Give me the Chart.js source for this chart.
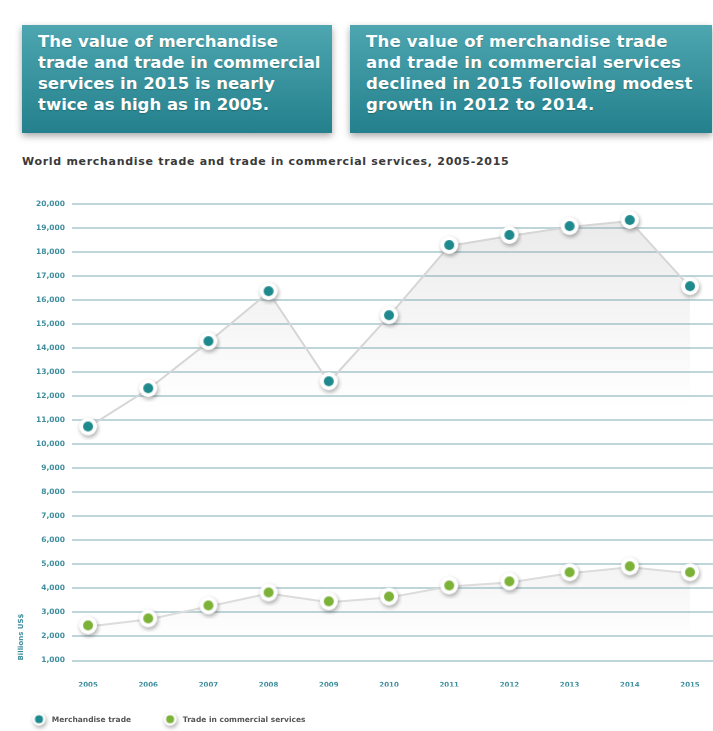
<!DOCTYPE html>
<html lang="en">
<head>
  <meta charset="UTF-8">
  <title>World merchandise trade and trade in commercial services</title>
  <script src="https://cdn.jsdelivr.net/npm/chart.js@4"></script>
  <style>
    html, body { margin: 0; padding: 0; background: #fff; }
    body { width: 713px; height: 731px; position: relative; overflow: hidden; font-family: "DejaVu Sans", sans-serif; }
    .box {
      position: absolute; top: 25px; height: 108px; box-sizing: border-box;
      padding: 6px 0 0 16px;
      background: linear-gradient(to bottom, #4da6b0, #23808c);
      box-shadow: 0 3px 7px rgba(0,0,0,0.35);
      color: #fff; font-weight: bold; font-size: 16.5px; line-height: 21px;
      text-shadow: 0 1px 1px rgba(0,0,0,0.2);
    }
    #box1 { left: 22px; width: 310px; }
    #box2 { left: 350px; width: 362px; letter-spacing: 0.2px; }
    .chart-title { position: absolute; left: 22px; top: 155px; font-size: 11px; font-weight: bold; color: #3a3a3a; letter-spacing: 0.7px; white-space: nowrap; }
    .chart-wrap { position: absolute; left: 0; top: 170px; width: 713px; height: 564px; }
  </style>
</head>
<body>

  <div class="box" id="box1">The value of merchandise<br>trade and trade in commercial<br>services in 2015 is nearly<br>twice as high as in 2005.</div>
  <div class="box" id="box2">The value of merchandise trade<br>and trade in commercial services<br>declined in 2015 following modest<br>growth in 2012 to 2014.</div>

  <div class="chart-title">World merchandise trade and trade in commercial services, 2005-2015</div>

  <div class="chart-wrap"><canvas id="tradeChart"></canvas></div>

<script>
// valores em bilhoes de US$
const years = [2005, 2006, 2007, 2008, 2009, 2010, 2011, 2012, 2013, 2014, 2015];
const merchandiseTrade = [10700, 12290, 14250, 16330, 12580, 15330, 18250, 18670, 19040, 19290, 16540];
const commercialServices = [2420, 2710, 3250, 3790, 3420, 3620, 4080, 4250, 4630, 4880, 4630];
const seriesNames = ['Merchandise trade', 'Trade in commercial services'];

const TEAL = '#1f8a8d';
const GREEN = '#7db238';
const AXIS_COLOR = '#3f8e9e';

// bolinha com anel branco e sombra
function makeDot(color, outer, inner) {
  const size = Math.ceil(outer * 2 + 8);
  const cv = document.createElement('canvas');
  cv.width = cv.height = size;
  const c = cv.getContext('2d');
  const m = size / 2;
  c.shadowColor = 'rgba(0,0,0,0.35)';
  c.shadowBlur = 4;
  c.shadowOffsetX = 1;
  c.shadowOffsetY = 2;
  c.beginPath(); c.arc(m, m - 1, outer, 0, Math.PI * 2); c.fillStyle = '#fff'; c.fill();
  c.shadowColor = 'transparent';
  c.beginPath(); c.arc(m, m - 1, inner, 0, Math.PI * 2); c.fillStyle = color; c.fill();
  return cv;
}

const tealDot = makeDot(TEAL, 9, 5);
const greenDot = makeDot(GREEN, 9, 5);
const legendDots = [makeDot(TEAL, 6.5, 4), makeDot(GREEN, 6.5, 4)];

// degrade cinza abaixo da linha
function fadeFill(from, to, alpha) {
  return (ctx) => {
    const { chart } = ctx;
    if (!chart.chartArea) return 'rgba(0,0,0,0)';
    const ys = chart.scales.y;
    const g = chart.ctx.createLinearGradient(0, ys.getPixelForValue(from), 0, ys.getPixelForValue(to));
    g.addColorStop(0, `rgba(140,140,140,${alpha})`);
    g.addColorStop(1, 'rgba(140,140,140,0)');
    return g;
  };
}

const toPoints = (vals) => years.map((yr, i) => ({ x: yr, y: vals[i] }));

const data = {
  datasets: [{
    label: seriesNames[0],
    data: toPoints(merchandiseTrade),
    borderColor: '#d6d6d6',
    borderWidth: 2,
    pointStyle: tealDot,
    pointRadius: 9,
    fill: 'origin',
    backgroundColor: fadeFill(19500, 11500, 0.18)
  }, {
    label: seriesNames[1],
    data: toPoints(commercialServices),
    borderColor: '#dcdcdc',
    borderWidth: 2,
    pointStyle: greenDot,
    pointRadius: 9,
    fill: 'origin',
    backgroundColor: fadeFill(5000, 1800, 0.1)
  }]
};

const config = {
  type: 'line',
  data: data,
  options: {
    responsive: true,
    maintainAspectRatio: false,
    animation: false,
    layout: { autoPadding: false, padding: { top: 34, left: 0, right: 0, bottom: 0 } },
    plugins: {
      tooltip: { enabled: false },
      legend: {
        position: 'bottom',
        align: 'start',
        labels: {
          usePointStyle: true,
          pointStyleWidth: 18,
          padding: 30,
          color: '#555',
          font: { family: 'DejaVu Sans', size: 7.5, weight: 'bold' },
          generateLabels(chart) {
            const items = Chart.defaults.plugins.legend.labels.generateLabels(chart);
            items.forEach((it, i) => { it.pointStyle = legendDots[i]; });
            return items;
          }
        }
      }
    },
    scales: {
      x: {
        type: 'linear',
        min: 2004.734,
        max: 2015.382,
        grid: { display: false },
        border: { display: false },
        afterFit(scale) { scale.height = 26; },
        ticks: {
          stepSize: 1,
          includeBounds: false,
          padding: 12,
          color: AXIS_COLOR,
          font: { family: 'DejaVu Sans', size: 7, weight: 'bold' },
          callback: (v) => String(v)
        }
      },
      y: {
        min: 1000,
        max: 20000,
        afterFit(scale) { scale.width = 72; },
        border: { display: false },
        grid: { color: 'rgba(168,199,206,0.75)', lineWidth: 2, drawTicks: false },
        title: {
          display: true,
          text: 'Billions US$',
          align: 'start',
          color: AXIS_COLOR,
          font: { family: 'DejaVu Sans', size: 7, weight: 'bold' },
          padding: { top: 17, bottom: 0 }
        },
        ticks: {
          stepSize: 1000,
          padding: 7,
          color: AXIS_COLOR,
          font: { family: 'DejaVu Sans', size: 7.5, weight: 'bold' },
          callback: (v) => v.toLocaleString('en-US')
        }
      }
    }
  }
};

const tradeChart = new Chart(document.getElementById('tradeChart'), config);
</script>
</body>
</html>
